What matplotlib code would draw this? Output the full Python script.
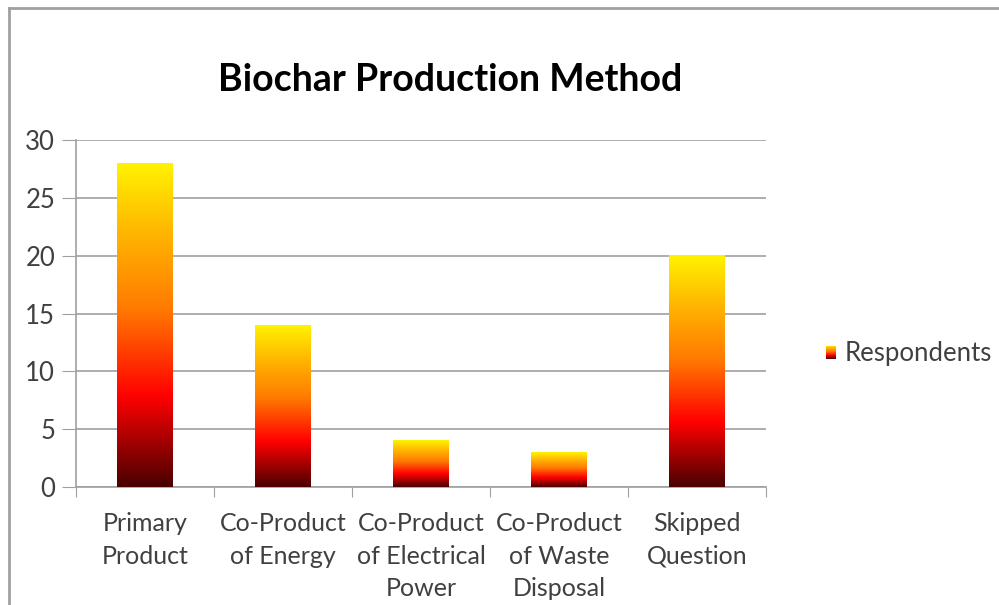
import matplotlib
matplotlib.use("Agg")
import matplotlib.pyplot as plt
from matplotlib.colors import LinearSegmentedColormap
from matplotlib.lines import Line2D
import numpy as np

# data
categories = ["Primary\nProduct", "Co-Product\nof Energy", "Co-Product\nof Electrical\nPower",
              "Co-Product\nof Waste\nDisposal", "Skipped\nQuestion"]
respondents = [28, 14, 4, 3, 20]
y_ticks = [0, 5, 10, 15, 20, 25, 30]

plt.rcParams['font.family'] = ['Lato', 'DejaVu Sans']

# fire gradient, bottom -> top
fire = LinearSegmentedColormap.from_list(
    "fire", [(0.0, "#4a0000"), (0.28, "#ff0000"), (0.55, "#ff7a00"),
             (0.78, "#ffb400"), (1.0, "#fff200")])
grad = np.linspace(0, 1, 256).reshape(-1, 1)

fig = plt.figure(figsize=(9.99, 6.05), dpi=100)
ax = fig.add_axes([0.0761, 0.195, 0.6907, 0.5736])

x = np.arange(len(categories))
bars = ax.bar(x, respondents, width=0.4, color="none", zorder=3)
for b in bars:
    x0, y0 = b.get_x(), b.get_y()
    ax.imshow(grad, cmap=fire, origin="lower", aspect="auto", zorder=3,
              extent=[x0, x0 + b.get_width(), y0, y0 + b.get_height()])

ax.set_xlim(-0.5, len(categories) - 0.5)
ax.set_ylim(0, 30)
ax.set_yticks(y_ticks)
ax.tick_params(axis="y", length=10, color="#a0a0a0", labelsize=18.5,
               labelcolor="#404040", pad=5)
ax.yaxis.grid(True, color="#a0a0a0", linewidth=1.2, zorder=0)
ax.set_axisbelow(True)

# category labels between boundary ticks
ax.set_xticks(np.arange(-0.5, len(categories), 1.0))
ax.set_xticklabels([])
ax.set_xticks(x, minor=True)
ax.set_xticklabels(categories, minor=True, fontsize=18, color="#404040",
                   linespacing=1.5)
ax.tick_params(axis="x", which="major", length=7, color="#a0a0a0")
ax.tick_params(axis="x", which="minor", length=0, pad=18)

for s in ["top", "right"]:
    ax.spines[s].set_visible(False)
for s in ["left", "bottom"]:
    ax.spines[s].set_color("#a0a0a0")
    ax.spines[s].set_linewidth(1.2)

fig.text(0.451, 0.868, "Biochar Production Method", ha="center", va="center",
         fontsize=27, fontweight="bold", color="black")

# legend
leg_ax = fig.add_axes([826 / 999, 1 - 359 / 605, 10 / 999, 13 / 605])
leg_ax.imshow(grad, cmap=fire, origin="lower", aspect="auto")
leg_ax.axis("off")
fig.text(845 / 999, 1 - 353 / 605, "Respondents", ha="left", va="center",
         fontsize=18.5, color="#404040")

# outer chart frame
fig.lines.append(Line2D([9 / 999, 9 / 999], [0, 1 - 8 / 605], transform=fig.transFigure,
                        color="#a0a0a0", linewidth=2))
fig.lines.append(Line2D([9 / 999, 1], [1 - 8 / 605, 1 - 8 / 605], transform=fig.transFigure,
                        color="#a0a0a0", linewidth=2))

fig.savefig("out.png", dpi=100)
